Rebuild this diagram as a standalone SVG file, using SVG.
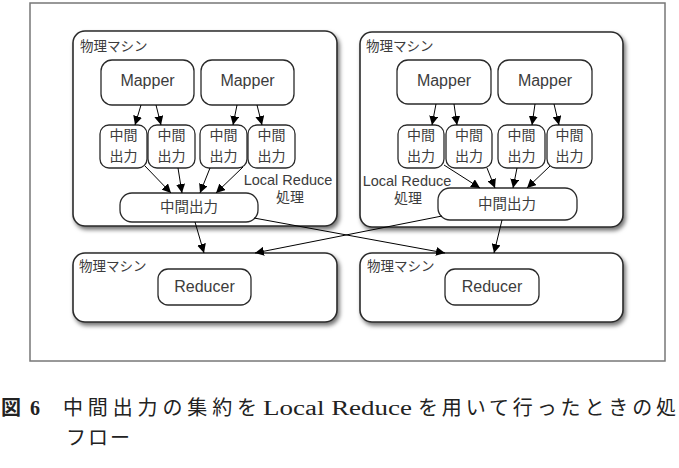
<svg xmlns="http://www.w3.org/2000/svg" width="679" height="468" viewBox="0 0 679 468">
<style>
.frame{fill:#fff;stroke:#777;stroke-width:1.5}
.mach{fill:#fff;stroke:#2a2a2a;stroke-width:1.6;filter:url(#sh)}
.box{fill:#fff;stroke:#2a2a2a;stroke-width:1.3}
.t{font-family:"Liberation Sans","Noto Sans CJK JP",sans-serif;fill:#3c3c3c;text-anchor:middle}
.lbl{font-family:"Liberation Sans","Noto Sans CJK JP",sans-serif;fill:#3c3c3c;font-size:13.5px}
.c{stroke:#000;stroke-width:1;fill:none;marker-end:url(#ah)}
.cap{font-family:"Liberation Serif","Noto Sans CJK JP",serif;fill:#222;font-size:20px}
</style>
<defs>
<filter id="sh" x="-5%" y="-5%" width="115%" height="120%">
<feDropShadow dx="2" dy="3" stdDeviation="2.2" flood-color="#000" flood-opacity="0.55"/>
</filter>
<marker id="ah" viewBox="0 0 10 10" refX="10" refY="5" markerWidth="9" markerHeight="9" markerUnits="userSpaceOnUse" orient="auto">
<path d="M0,0 L10,5 L0,10 z" fill="#000"/>
</marker>
</defs>
<rect class="frame" x="30" y="3" width="635" height="358"/>

<g id="machine1">
<rect class="mach" x="73" y="31" width="264" height="195" rx="12"/>
<text class="lbl" x="80" y="51">物理マシン</text>
</g>
<g id="machine2">
<rect class="mach" x="360" y="32" width="263" height="195" rx="12"/>
<text class="lbl" x="366" y="51">物理マシン</text>
</g>
<g id="machine3">
<rect class="mach" x="73" y="253" width="264" height="69" rx="12"/>
<text class="lbl" x="79" y="271">物理マシン</text>
</g>
<g id="machine4">
<rect class="mach" x="360" y="253" width="263" height="69" rx="12"/>
<text class="lbl" x="367" y="271">物理マシン</text>
</g>

<g id="mapper1"><rect class="box" x="101" y="60" width="93" height="45" rx="11"/><text class="t" x="147.5" y="86" font-size="16">Mapper</text></g>
<g id="mapper2"><rect class="box" x="201" y="60" width="93" height="45" rx="11"/><text class="t" x="247.5" y="86" font-size="16">Mapper</text></g>
<g id="mapper3"><rect class="box" x="397" y="60" width="94" height="44" rx="11"/><text class="t" x="444" y="86" font-size="16">Mapper</text></g>
<g id="mapper4"><rect class="box" x="498" y="60" width="94" height="44" rx="11"/><text class="t" x="545" y="86" font-size="16">Mapper</text></g>

<g id="out1"><rect class="box" x="100" y="125" width="47" height="43" rx="9"/><text class="t" x="123.5" y="140" font-size="14">中間</text><text class="t" x="123.5" y="161" font-size="14">出力</text></g>
<g id="out2"><rect class="box" x="148" y="125" width="47" height="43" rx="9"/><text class="t" x="171.5" y="140" font-size="14">中間</text><text class="t" x="171.5" y="161" font-size="14">出力</text></g>
<g id="out3"><rect class="box" x="200" y="125" width="47" height="43" rx="9"/><text class="t" x="223.5" y="140" font-size="14">中間</text><text class="t" x="223.5" y="161" font-size="14">出力</text></g>
<g id="out4"><rect class="box" x="248" y="125" width="47" height="43" rx="9"/><text class="t" x="271.5" y="140" font-size="14">中間</text><text class="t" x="271.5" y="161" font-size="14">出力</text></g>
<g id="out5"><rect class="box" x="398" y="125" width="46" height="43" rx="9"/><text class="t" x="421" y="140" font-size="14">中間</text><text class="t" x="421" y="161" font-size="14">出力</text></g>
<g id="out6"><rect class="box" x="446" y="125" width="46" height="43" rx="9"/><text class="t" x="469" y="140" font-size="14">中間</text><text class="t" x="469" y="161" font-size="14">出力</text></g>
<g id="out7"><rect class="box" x="498" y="125" width="47" height="43" rx="9"/><text class="t" x="521.5" y="140" font-size="14">中間</text><text class="t" x="521.5" y="161" font-size="14">出力</text></g>
<g id="out8"><rect class="box" x="547" y="125" width="45" height="43" rx="9"/><text class="t" x="569.5" y="140" font-size="14">中間</text><text class="t" x="569.5" y="161" font-size="14">出力</text></g>

<g id="merged1"><rect class="box" x="120" y="193" width="138" height="29" rx="12"/><text class="t" x="189" y="212" font-size="14.5">中間出力</text></g>
<g id="merged2"><rect class="box" x="438" y="188" width="139" height="32" rx="12"/><text class="t" x="507" y="209" font-size="14.5">中間出力</text></g>

<g id="lr1"><text class="t" x="288" y="185" font-size="14.5">Local Reduce</text><text class="t" x="290" y="202" font-size="14">処理</text></g>
<g id="lr2"><text class="t" x="407" y="186" font-size="14.5">Local Reduce</text><text class="t" x="408" y="203" font-size="14">処理</text></g>

<g id="reducer1"><rect class="box" x="158" y="269" width="93" height="36" rx="10"/><text class="t" x="204.5" y="292" font-size="16">Reducer</text></g>
<g id="reducer2"><rect class="box" x="445" y="269" width="94" height="36" rx="10"/><text class="t" x="492" y="292" font-size="16">Reducer</text></g>

<g id="connectors">
<line class="c" x1="141" y1="105" x2="135" y2="125"/>
<line class="c" x1="156" y1="105" x2="161" y2="125"/>
<line class="c" x1="237" y1="105" x2="233" y2="125"/>
<line class="c" x1="257" y1="105" x2="262" y2="125"/>
<line class="c" x1="436" y1="104" x2="432" y2="125"/>
<line class="c" x1="454" y1="104" x2="457" y2="125"/>
<line class="c" x1="535" y1="104" x2="532" y2="125"/>
<line class="c" x1="554" y1="104" x2="559" y2="125"/>
<line class="c" x1="145" y1="166" x2="171" y2="193"/>
<line class="c" x1="178" y1="168" x2="182" y2="193"/>
<line class="c" x1="210" y1="168" x2="200" y2="193"/>
<line class="c" x1="243" y1="167" x2="216" y2="193"/>
<line class="c" x1="444" y1="165" x2="480" y2="188"/>
<line class="c" x1="487" y1="168" x2="495" y2="188"/>
<line class="c" x1="517" y1="168" x2="513" y2="188"/>
<line class="c" x1="550" y1="166" x2="527" y2="188"/>
<line class="c" x1="195" y1="222" x2="204" y2="253"/>
<line class="c" x1="254" y1="218" x2="445" y2="253"/>
<line class="c" x1="442" y1="216" x2="255" y2="253"/>
<line class="c" x1="502" y1="220" x2="494" y2="253"/>
</g>

<g id="caption">
<text class="cap" x="1" y="415" font-weight="bold">図</text>
<text class="cap" x="30" y="415" font-weight="bold">6</text>
<text class="cap" x="63" y="415" textLength="194" lengthAdjust="spacing">中間出力の集約を</text>
<text class="cap" x="263" y="415" textLength="149" lengthAdjust="spacingAndGlyphs">Local Reduce</text>
<text class="cap" x="418" y="415" textLength="258" lengthAdjust="spacing">を用いて行ったときの処</text>
<text class="cap" x="66" y="445" textLength="64" lengthAdjust="spacing">フロー</text>
</g>
</svg>
